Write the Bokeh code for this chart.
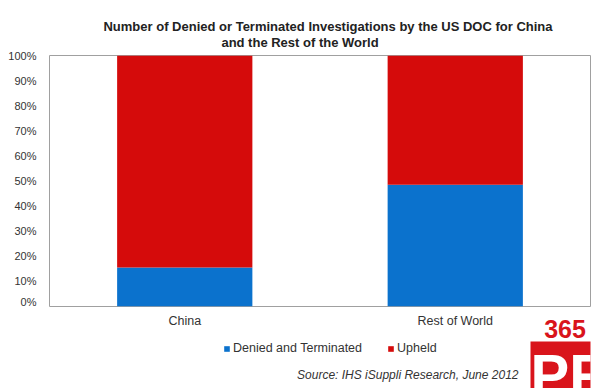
from bokeh.plotting import figure
from bokeh.layouts import column
from bokeh.models import Label, Legend, LegendItem, FactorRange, FixedTicker, Range1d
from bokeh.core.properties import value
from bokeh.embed import file_html
from bokeh.resources import INLINE

categories = ["China", "Rest of World"]
denied = [15.5, 48.5]
upheld = [84.5, 51.5]
series = ["Denied and Terminated", "Upheld"]
colors = ["#0B72CD", "#D50B0B"]
yticks = [0, 10, 20, 30, 40, 50, 60, 70, 80, 90, 100]
title_lines = ["Number of Denied or Terminated Investigations by the US DOC for China",
               "and the Rest of the World"]
source_text = "Source: IHS iSuppli Research, June 2012"

FONT = "Liberation Sans"
TXT = "#333333"
LOGO_RED = "#D9141B"


def strip(height, x_range=None, border_left=49, border_right=10):
    f = figure(x_range=x_range if x_range is not None else Range1d(0, 541),
               y_range=Range1d(0, height), width=600, height=height,
               output_backend="svg", toolbar_location=None,
               min_border_left=border_left, min_border_right=border_right,
               min_border_top=0, min_border_bottom=0)
    f.xaxis.visible = False
    f.yaxis.visible = False
    f.xgrid.visible = False
    f.ygrid.visible = False
    f.outline_line_color = None
    f.background_fill_color = "white"
    f.border_fill_color = "white"
    return f


xr = FactorRange(*categories, range_padding=0)

# ---------------- title strip ----------------
t = strip(48)
t.add_layout(Label(x=278.5, y=22, x_units="screen", y_units="screen", text=title_lines[0],
                   text_font=FONT, text_font_size="13px", text_font_style="bold",
                   text_align="center", text_baseline="middle", text_color="#222222"))
t.add_layout(Label(x=250.5, y=6, x_units="screen", y_units="screen", text=title_lines[1],
                   text_font=FONT, text_font_size="13px", text_font_style="bold",
                   text_align="center", text_baseline="middle", text_color="#222222"))

# ---------------- main chart ----------------
p = figure(x_range=xr, y_range=(0, 100),
           width=600, height=259, output_backend="svg", toolbar_location=None,
           min_border_left=49, min_border_right=10, min_border_top=7, min_border_bottom=1)

src = dict(cat=categories, denied=denied, upheld=upheld)
p.vbar_stack(["denied", "upheld"], x="cat", width=0.5, source=src,
             color=colors, line_color=None)

p.xgrid.visible = False
p.ygrid.visible = False
p.xaxis.visible = False
p.outline_line_color = "#a0a0a0"
p.outline_line_width = 1

p.yaxis.ticker = FixedTicker(ticks=yticks)
p.yaxis.major_label_overrides = {v: f"{v}%" for v in yticks}
p.yaxis.axis_line_color = None
p.yaxis.major_tick_line_color = None
p.yaxis.minor_tick_line_color = None
p.yaxis.major_label_standoff = 7
p.yaxis.major_label_text_font = FONT
p.yaxis.major_label_text_font_size = "11px"
p.yaxis.major_label_text_color = TXT
p.background_fill_color = "white"
p.border_fill_color = "white"

# ---------------- bottom strip: category labels, legend, source ----------------
q = strip(81, x_range=xr)

q.text(x=categories, y=[68, 68], text=categories, text_font=value(FONT),
       text_font_size="12.5px", text_color=TXT, text_align="center",
       text_baseline="middle")

dummies = [q.vbar(x=[categories[0]], top=[0], width=0.5, fill_color=c, line_color=None)
           for c in colors]
legend = Legend(items=[LegendItem(label=series[i], renderers=[dummies[i]]) for i in range(2)],
                orientation="horizontal", location=(174, 33),
                label_text_font=FONT, label_text_font_size="12.5px", label_text_color=TXT,
                glyph_width=7, glyph_height=7, label_standoff=3, spacing=25,
                label_height=14, border_line_color=None, background_fill_alpha=0,
                padding=0, margin=0)
q.add_layout(legend, "center")

q.add_layout(Label(x=469, y=14, x_units="screen", y_units="screen", text=source_text,
                   text_font=FONT, text_font_size="12px", text_font_style="italic",
                   text_align="right", text_baseline="middle", text_color=TXT))

q.add_layout(Label(x=481, y=47, x_units="screen", y_units="screen", text="PR",
                   text_font=FONT, text_font_size="58px", text_font_style="bold",
                   text_align="left", text_baseline="top", text_color="white",
                   background_fill_color=LOGO_RED))
q.add_layout(Label(x=515.5, y=60, x_units="screen", y_units="screen", text="365",
                   text_font=FONT, text_font_size="25px", text_font_style="bold",
                   text_align="center", text_baseline="middle", text_color=LOGO_RED))

layout = column(t, p, q, spacing=0)

with open("out.html", "w") as f:
    f.write(file_html(layout, INLINE))
